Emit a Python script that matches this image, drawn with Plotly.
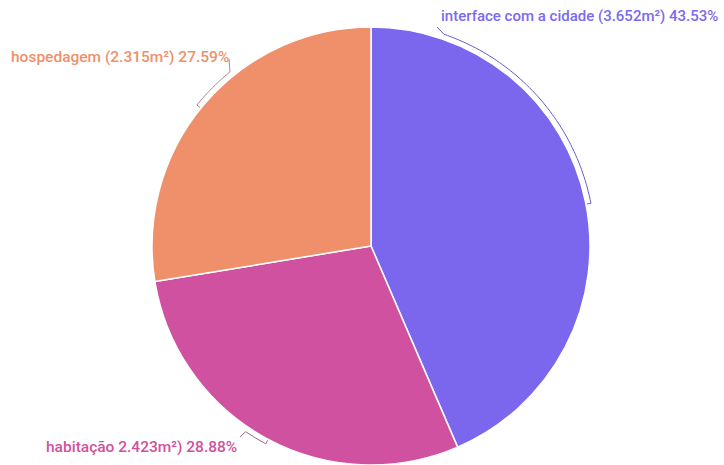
import math
import plotly.graph_objects as go

# ---- data ----
categories = ["interface com a cidade", "habitação", "hospedagem"]
values = [3652, 2423, 2315]
label_texts = [
    "interface com a cidade (3.652m²) 43.53%",
    "habitação 2.423m²) 28.88%",
    "hospedagem (2.315m²) 27.59%",
]

# ---- style ----
colors = ["#7B66EE", "#D0519F", "#F0906B"]
text_colors = ["#7B6AEE", "#D0519F", "#F0906B"]
line_colors = ["#6A5CC8", "#9A6A8A", "#B08A84"]
label_sizes = [15, 15.5, 15.5]
W, H = 724, 465
dom_x = [151 / W, 591 / W]
dom_y = [0.0, 438 / H]

# pie geometry (pixel space) derived from domain
cx = (dom_x[0] + dom_x[1]) / 2 * W
side = min((dom_x[1] - dom_x[0]) * W, (dom_y[1] - dom_y[0]) * H)
R = side / 2
cy = H - (dom_y[0] + dom_y[1]) / 2 * H


def polar(deg, r):
    a = math.radians(deg)
    return cx + r * math.sin(a), cy - r * math.cos(a)


fig = go.Figure()
fig.add_trace(go.Pie(
    labels=categories, values=values, sort=False, direction="clockwise",
    rotation=0, textinfo="none", hoverinfo="label+value+percent",
    marker=dict(colors=colors, line=dict(color="white", width=1.5)),
    domain=dict(x=dom_x, y=dom_y), showlegend=False,
))

# bracket definitions (decoration): label anchor px, arc start/end degrees
brackets = [
    dict(anchor=(437, 27), a0=19, a1=79),
    dict(anchor=(240, 437), a0=214, a1=208),
    dict(anchor=(229, 59), a0=321, a1=309),
]
for i, b in enumerate(brackets):
    pts = [b["anchor"]]
    n = max(2, abs(b["a1"] - b["a0"]))
    for k in range(n + 1):
        ang = b["a0"] + (b["a1"] - b["a0"]) * k / n
        pts.append(polar(ang, R + 5))
    pts.append(polar(b["a1"], R + 1))
    path = "M " + " L ".join(f"{x:.1f},{y:.1f}" for x, y in pts)
    fig.add_shape(type="path", path=path, xref="x", yref="y",
                  line=dict(color=line_colors[i], width=1))

label_pos = [
    dict(x=439, y=16, xanchor="left"),
    dict(x=239, y=447, xanchor="right"),
    dict(x=231, y=57, xanchor="right"),
]
for i, t in enumerate(label_texts):
    fig.add_annotation(text=t, x=label_pos[i]["x"], y=label_pos[i]["y"],
                       xref="x", yref="y", xanchor=label_pos[i]["xanchor"],
                       yanchor="middle", showarrow=False,
                       font=dict(family="Roboto", size=label_sizes[i], weight=500,
                                 color=text_colors[i]))

fig.update_layout(
    width=W, height=H, margin=dict(l=0, r=0, t=0, b=0),
    paper_bgcolor="white", plot_bgcolor="rgba(0,0,0,0)",
    xaxis=dict(range=[0, W], visible=False, fixedrange=True),
    yaxis=dict(range=[H, 0], visible=False, fixedrange=True),
)
fig.write_html("out.html")
